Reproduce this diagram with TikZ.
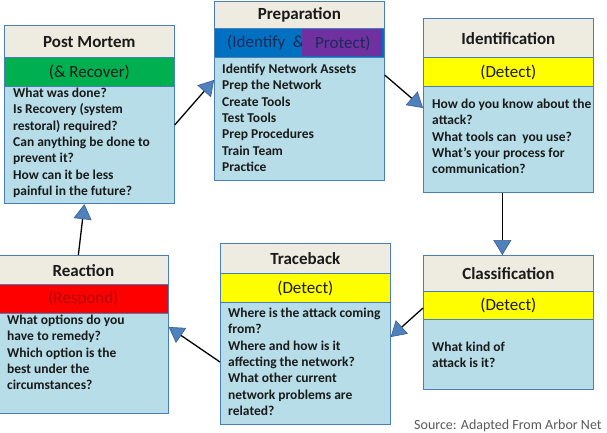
\documentclass[tikz,border=0pt]{standalone}
\usepackage{fontspec}
\setmainfont{Carlito}
\usetikzlibrary{arrows.meta}

\definecolor{boxline}{HTML}{4A7EBB}
\definecolor{titlebg}{HTML}{EEECE1}
\definecolor{bodybg}{HTML}{B7DEE8}
\definecolor{bandgreen}{HTML}{00B050}
\definecolor{bandyellow}{HTML}{FFFF00}
\definecolor{bandred}{HTML}{FF0000}
\definecolor{bandblue}{HTML}{0070C0}
\definecolor{bandpurple}{HTML}{7030A0}
\definecolor{arrowfill}{HTML}{4F81BD}
\definecolor{arrowline}{HTML}{385D8A}
\definecolor{inktext}{HTML}{1A1A1A}
\definecolor{navytext}{HTML}{1C2B5A}
\definecolor{redtext}{HTML}{B00000}
\definecolor{sourcegray}{HTML}{595959}

\begin{document}
\begin{tikzpicture}[x=1pt,y=-1pt,
  panel/.style={draw=boxline, line width=1.2pt, inner sep=0pt, anchor=north west,
                minimum width=169.5pt, text=inktext},
  titlebox/.style={panel, fill=titlebg, font=\fontsize{17}{20}\selectfont\bfseries},
  bandbox/.style={panel, font=\fontsize{17}{20}\selectfont},
  bodybox/.style={panel, fill=bodybg},
  bodytext/.style={anchor=north west, inner sep=0pt, align=left, text=inktext,
                   font=\fontsize{13.5}{16.3}\selectfont\bfseries},
  flow/.style={line width=1.3pt, draw=black,
               -{Triangle[width=18pt,length=15pt,color=arrowline,fill=arrowfill,line width=0.6pt]}},
]
\useasboundingbox (0,0) rectangle (607,433);

% Post Mortem
\node[titlebox, minimum height=32pt] (pmT) at (4,25) {Post Mortem};
\node[bandbox, fill=bandgreen, minimum height=29pt] (pmB) at (4,57) {(\& Recover)};
\node[bodybox, minimum height=117pt] (pm) at (4,86) {};
\node[bodytext] (pmX) at (13,86) {\strut What was done?\\Is Recovery (system\\restoral) required?\\Can anything be done to\\prevent it?\\How can it be less\\painful in the future?};

% Preparation
\node[titlebox, minimum height=27pt] (prT) at (214,1) {Preparation};
\node[bandbox, fill=bandblue, minimum height=29pt] (prB) at (214,28) {};
\node[anchor=west, inner sep=0pt, text=navytext, font=\fontsize{17}{20}\selectfont] (prL) at (227,43) {(Identify \ \&};
\fill[bandpurple] (302,28.6) rectangle (382.4,56.4);
\node[anchor=west, inner sep=0pt, text=navytext, font=\fontsize{17}{20}\selectfont] (prR) at (315,43) {Protect)};
\node[bodybox, minimum height=123pt] (pr) at (214,57) {};
\node[bodytext] (prX) at (222,62) {\strut Identify Network Assets\\Prep the Network\\Create Tools\\Test Tools\\Prep Procedures\\Train Team\\Practice};

% Identification
\node[titlebox, minimum height=39pt] (idT) at (423,18) {Identification};
\node[bandbox, fill=bandyellow, minimum height=29pt] (idB) at (423,57) {(Detect)};
\node[bodybox, minimum height=106pt] (id) at (423,86) {};
\node[bodytext] (idX) at (432,97) {\strut How do you know about the\\attack?\\What tools can \ you use?\\What’s your process for\\communication?};

% Reaction
\node[titlebox, minimum height=29pt] (reT) at (-2,255) {Reaction};
\node[bandbox, fill=bandred, text=redtext, minimum height=29pt] (reB) at (-2,284) {(Respond)};
\node[bodybox, minimum height=100pt] (re) at (-2,313) {};
\node[bodytext] (reX) at (7,313) {\strut What options do you\\have to remedy?\\Which option is the\\best under the\\circumstances?};

% Traceback
\node[titlebox, minimum height=30pt] (trT) at (220,243) {Traceback};
\node[bandbox, fill=bandyellow, minimum height=29pt] (trB) at (220,273) {(Detect)};
\node[bodybox, minimum height=122pt] (tr) at (220,302) {};
\node[bodytext] (trX) at (228,306) {\strut Where is the attack coming\\from?\\Where and how is it\\affecting the network?\\What other current\\network problems are\\related?};

% Classification
\node[titlebox, minimum height=36pt] (clT) at (423,255) {Classification};
\node[bandbox, fill=bandyellow, minimum height=28pt] (clB) at (423,291) {(Detect)};
\node[bodybox, minimum height=70pt] (cl) at (423,319) {};
\node[bodytext] (clX) at (432,340) {\strut What kind of\\attack is it?};

% Incident cycle
\draw[flow] ([yshift=-39pt]pm.north east) -- ([yshift=-23pt]pr.north west);
\draw[flow] ([yshift=-18pt]pr.north east) -- ([yshift=-22pt]id.north west);
\draw[flow] ([xshift=-6pt]id.south) -- ([xshift=-6pt]clT.north);
\draw[flow] ([yshift=-17pt]clB.north west) -- ([yshift=-35pt]tr.north east);
\draw[flow] ([yshift=-60pt]tr.north west) -- ([yshift=-14pt]re.north east);
\draw[flow] ([xshift=-5pt]reT.north) -- ([xshift=-5pt]pm.south);

\node[anchor=west, inner sep=0pt, text=sourcegray, font=\fontsize{14}{16}\selectfont] (src) at (414,426) {Source: Adapted From Arbor Net};
\end{tikzpicture}
\end{document}
